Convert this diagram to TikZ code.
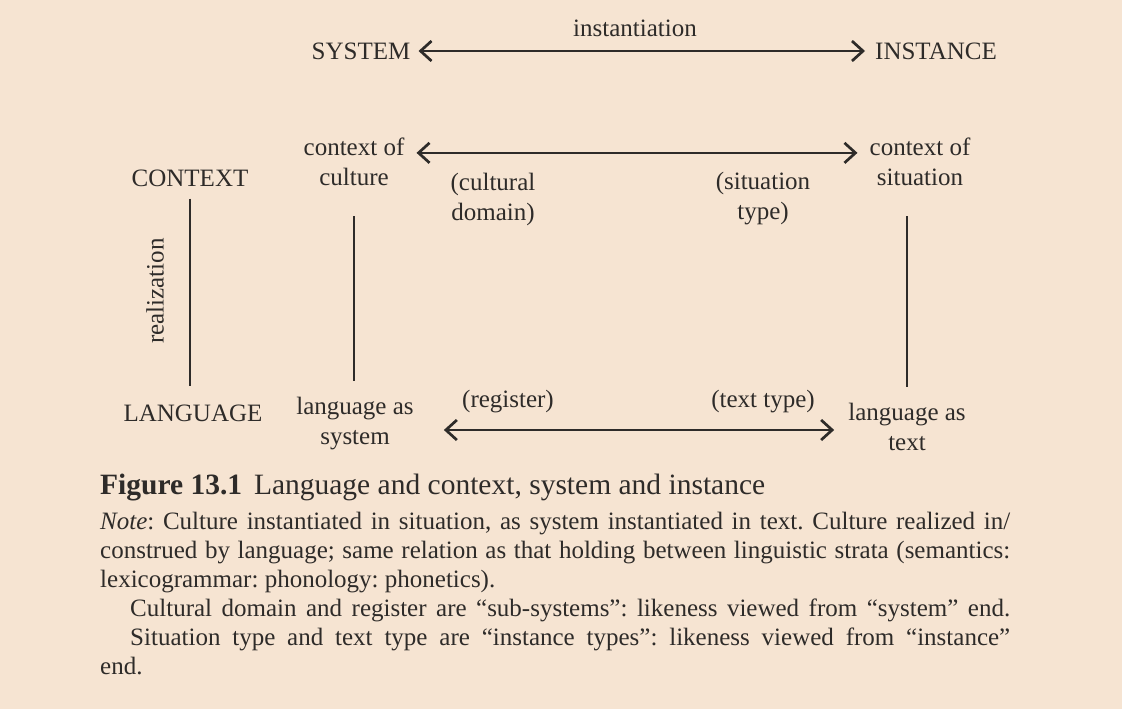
\documentclass[tikz,border=0pt]{standalone}
\usepackage{fontspec}
\setmainfont{Liberation Serif}
\usetikzlibrary{arrows.meta}
\definecolor{hlpeach}{HTML}{F6E4D2}
\definecolor{hlink}{HTML}{2E2B29}

\begin{document}
\begin{tikzpicture}[
  x=1pt, y=-1pt,
  lbl/.style={text=hlink, align=center, inner sep=0pt, font=\fontsize{25pt}{30pt}\selectfont},
  rel/.style={{Straight Barb[length=11pt,width=20pt]}-{Straight Barb[length=11pt,width=20pt]}, line width=2.7pt, draw=hlink},
  rule/.style={line width=2.7pt, draw=hlink}
]
\fill[hlpeach] (0,0) rectangle (1122,709);
\useasboundingbox (0,0) rectangle (1122,709);

\node[lbl] (inst) at (635,28) {instantiation};
\node[lbl] (sys) at (361,51) {SYSTEM};
\node[lbl] (ins) at (936,51) {INSTANCE};
\node[lbl] (ctx) at (190,178) {CONTEXT};
\node[lbl] (cult) at (354,162) {context of\\culture};
\node[lbl] (sit) at (920,162) {context of\\situation};
\node[lbl] (dom) at (493,199) {(cultural\\domain)};
\node[lbl] (stype) at (763,199) {(situation\\type)};
\node[lbl, rotate=90] (real) at (155,291) {realization};
\node[lbl] (lang) at (193,413) {LANGUAGE};
\node[lbl] (las) at (355,424) {language as\\system};
\node[lbl] (lat) at (907,427) {language as\\text};
\node[lbl] (reg) at (508,402) {(register)};
\node[lbl] (ttype) at (763,402) {(text type)};

\coordinate (lo) at ([shift={(30,6)}]las.east);
\draw[rel] ([xshift=8pt]sys.east) -- ([xshift=-10pt]ins.west);
\draw[rel] ([shift={(12,15)}]cult.north east) -- ([shift={(-12,15)}]sit.north west);
\draw[rel, shorten >=14pt] (lo) -- (lo -| lat.west);
\draw[rule, shorten <=12pt, shorten >=18pt] (ctx.south) -- (lang.north -| ctx.south);
\draw[rule, shorten <=30pt, shorten >=16pt] (cult.south) -- (las.north -| cult.south);
\draw[rule, shorten <=30pt, shorten >=16pt] (lat.north |- sit.south) -- (lat.north);

% caption and note
\node[text=hlink, anchor=west, inner sep=0pt, font=\fontsize{29.5pt}{32pt}\selectfont] (cap) at (100,488)
  {\textbf{Figure 13.1}\hspace{0.4em}Language and context, system and instance};
\node[text=hlink, anchor=north west, inner sep=0pt, text width=910pt, align=justify,
  font=\fontsize{25pt}{29pt}\selectfont\frenchspacing] (note) at (100,512)
  {\emph{Note}: Culture instantiated in situation, as system instantiated in text. Culture realized in/\linebreak
   construed by language; same relation as that holding between linguistic strata (semantics:\linebreak
   lexicogrammar: phonology: phonetics).\\
   \hspace*{30pt}Cultural domain and register are “sub-systems”: likeness viewed from “system” end.\linebreak
   \hspace*{30pt}Situation type and text type are “instance types”: likeness viewed from “instance”\linebreak
   end.};
\end{tikzpicture}
\end{document}
